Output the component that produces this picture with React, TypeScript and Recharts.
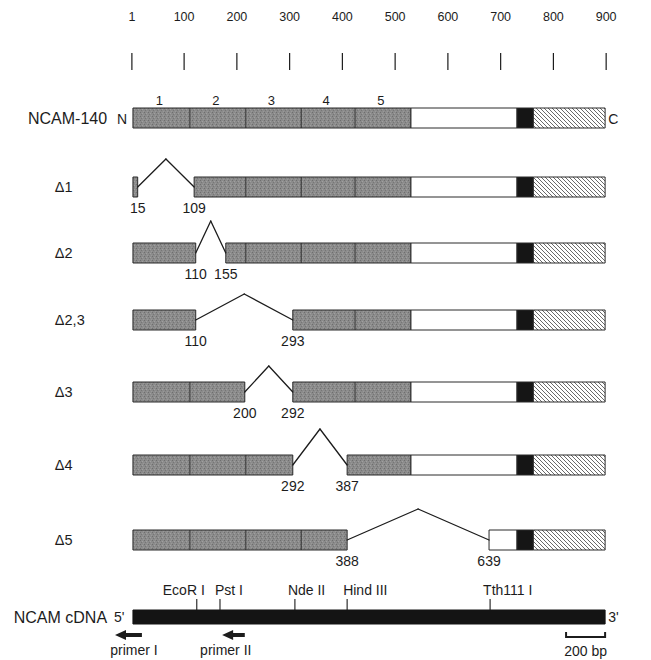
import React from "react";
import { ComposedChart, XAxis, YAxis, ReferenceArea, ReferenceLine, Scatter } from "recharts";

if (typeof document !== "undefined") document.body.style.margin = "0";

const FONT = "'Liberation Sans', Arial, Helvetica, sans-serif";
const INK = "#1c1c1c";

// top scale
const AXIS_TICKS = [1, 100, 200, 300, 400, 500, 600, 700, 800, 900];

// rows, top to bottom
const ROWS = ["NCAM-140", "Δ1", "Δ2", "Δ2,3", "Δ3", "Δ4", "Δ5", "NCAM cDNA"];

// protein regions (axis units)
const DOMAIN_EDGES = [3, 111, 217, 322, 424, 530]; // Ig domains 1-5
const DOMAIN_NAMES = ["1", "2", "3", "4", "5"];
const ECTO = [530, 731];
const TM = [731, 762];
const CYTO = [762, 898];

// stretch spliced out in each variant, and the numbers printed at its ends
const DELETIONS = [
  [12, 119],
  [122, 179],
  [122, 306],
  [215, 306],
  [306, 409],
  [409, 678],
];
const DELETION_LABELS = [
  ["15", "109"],
  ["110", "155"],
  ["110", "293"],
  ["200", "292"],
  ["292", "387"],
  ["388", "639"],
];

// cDNA map
const CDNA_SPAN = [3, 898];
const SITES = ["EcoR I", "Pst I", "Nde II", "Hind III", "Tth111 I"];
const SITE_POS = [124, 168, 310, 409, 680];
const PRIMERS = ["primer I", "primer II"];
const PRIMER_TAIL = [20, 215];
const PRIMER_HEAD = [-31, 172];
const SCALE_BAR = [824, 898];
const SCALE_LABEL = "200 bp";

// layout (plot y units = px)
const ROW_Y = [118, 187, 253, 320, 392, 465, 540, 617];
const HALF = 10;
const CDNA_HALF = 7;
const PEAK_RISE = [28, 32, 26, 26, 36, 31];
const DELTA_COL = -145;
const NAME_COL = -46;
const SITE_DX = [-34, -5, -7, -4, -7];
const PRIMER_LABEL_X = [5, 179];

const AxisTick = (props: any) => {
  const { x, payload } = props;
  return (
    <g>
      <text x={x} y={16} dy="0.36em" textAnchor="middle" fontSize={12.5} fontFamily={FONT} fill={INK}>
        {payload.value}
      </text>
      <line x1={x} x2={x} y1={53} y2={70} stroke={INK} strokeWidth={1.2} />
    </g>
  );
};

const textShape = (size: number, anchor: string) => (p: any) => (
  <text
    x={p.cx + (p.payload.dx ?? 0)}
    y={p.cy}
    dy="0.36em"
    textAnchor={p.payload.anchor ?? anchor}
    fontSize={size}
    fontFamily={FONT}
    fill={INK}
  >
    {p.payload.text}
  </text>
);

const arrowHead = (p: any) => (
  <polygon points={`${p.cx},${p.cy} ${p.cx + 11},${p.cy - 5} ${p.cx + 11},${p.cy + 5}`} fill={INK} />
);

const clip = (a: number, b: number, r: number[]) => {
  const lo = Math.max(a, r[0]);
  const hi = Math.min(b, r[1]);
  return hi > lo ? [lo, hi] : null;
};

const FULL = [DOMAIN_EDGES[0], CYTO[1]];
const isoforms = [
  { y: ROW_Y[0], pieces: [FULL] },
  ...DELETIONS.map((d, i) => ({ y: ROW_Y[i + 1], pieces: [[FULL[0], d[0]], [d[1], FULL[1]]] })),
];

const lineProps = { stroke: INK, strokeWidth: 1.3, strokeLinecap: "round" as const, isFront: true };

export default function App() {
  const boxes: React.ReactNode[] = [];
  const lines: React.ReactNode[] = [];

  isoforms.forEach((iso, r) => {
    iso.pieces.forEach(([a, b], k) => {
      const g = clip(a, b, [DOMAIN_EDGES[0], DOMAIN_EDGES[5]]);
      if (g) {
        boxes.push(
          <ReferenceArea key={`g${r}-${k}`} x1={g[0]} x2={g[1]} y1={iso.y - HALF} y2={iso.y + HALF}
            fill="url(#ig)" fillOpacity={1} stroke="#2a2a2a" strokeWidth={1} />
        );
        DOMAIN_EDGES.slice(1, -1)
          .filter((e) => e > g[0] + 20 && e < g[1] - 20)
          .forEach((e) =>
            lines.push(
              <ReferenceLine key={`d${r}-${k}-${e}`} segment={[{ x: e, y: iso.y - HALF }, { x: e, y: iso.y + HALF }]}
                stroke="#2a2a2a" strokeWidth={0.9} isFront />
            )
          );
      }
      ([[ECTO, "#ffffff"], [TM, "#151515"], [CYTO, "url(#hatch)"]] as [number[], string][]).forEach(([reg, fill], j) => {
        const c = clip(a, b, reg);
        if (c)
          boxes.push(
            <ReferenceArea key={`r${r}-${k}-${j}`} x1={c[0]} x2={c[1]} y1={iso.y - HALF} y2={iso.y + HALF}
              fill={fill} fillOpacity={1} stroke="#2a2a2a" strokeWidth={1} />
          );
      });
    });
  });

  DELETIONS.forEach((d, i) => {
    const y = ROW_Y[i + 1];
    const mid = (d[0] + d[1]) / 2;
    const top = y - PEAK_RISE[i];
    lines.push(
      <ReferenceLine key={`ia${i}`} segment={[{ x: d[0], y }, { x: mid, y: top }]} {...lineProps} />,
      <ReferenceLine key={`ib${i}`} segment={[{ x: mid, y: top }, { x: d[1], y }]} {...lineProps} />
    );
  });

  const cdnaY = ROW_Y[7];
  SITE_POS.forEach((s, i) =>
    lines.push(
      <ReferenceLine key={`s${i}`} segment={[{ x: s, y: cdnaY - CDNA_HALF - 11 }, { x: s, y: cdnaY - CDNA_HALF }]}
        stroke={INK} strokeWidth={1.1} isFront />
    )
  );
  PRIMER_TAIL.forEach((t, i) =>
    lines.push(
      <ReferenceLine key={`p${i}`} segment={[{ x: t, y: 635 }, { x: PRIMER_HEAD[i] + 15, y: 635 }]}
        stroke={INK} strokeWidth={4} isFront />
    )
  );
  lines.push(
    <ReferenceLine key="sb" segment={[{ x: SCALE_BAR[0], y: 637 }, { x: SCALE_BAR[1], y: 637 }]} stroke={INK} strokeWidth={2} isFront />,
    <ReferenceLine key="sb0" segment={[{ x: SCALE_BAR[0], y: 632 }, { x: SCALE_BAR[0], y: 638 }]} stroke={INK} strokeWidth={2} isFront />,
    <ReferenceLine key="sb1" segment={[{ x: SCALE_BAR[1], y: 632 }, { x: SCALE_BAR[1], y: 638 }]} stroke={INK} strokeWidth={2} isFront />
  );

  const rowLabels = ROWS.map((name, i) => {
    const delta = name.startsWith("Δ");
    return { x: delta ? DELTA_COL : NAME_COL, y: ROW_Y[i], text: name, anchor: delta ? "start" : "end" };
  });
  const bigLabels = rowLabels.filter((l) => l.anchor === "end");
  const deltaLabels = rowLabels.filter((l) => l.anchor === "start");
  const caps = [
    { x: -8, y: ROW_Y[0] + 1, text: "N", anchor: "end" },
    { x: 904, y: ROW_Y[0] + 1, text: "C", anchor: "start" },
    { x: -13, y: cdnaY, text: "5'", anchor: "end" },
    { x: 904, y: cdnaY, text: "3'", anchor: "start" },
  ];
  const domainLabels = DOMAIN_NAMES.map((n, i) => ({
    x: (DOMAIN_EDGES[i] + DOMAIN_EDGES[i + 1]) / 2 - 4,
    y: ROW_Y[0] - 17.5,
    text: n,
  }));
  const junctionLabels = DELETIONS.flatMap((d, i) => [
    { x: d[0], y: ROW_Y[i + 1] + 21, text: DELETION_LABELS[i][0] },
    { x: d[1], y: ROW_Y[i + 1] + 21, text: DELETION_LABELS[i][1] },
  ]);
  const siteLabels = SITES.map((s, i) => ({ x: SITE_POS[i], y: 590, text: s, dx: SITE_DX[i] }));
  const primerLabels = PRIMERS.map((p, i) => ({ x: PRIMER_LABEL_X[i], y: 650, text: p }));
  const heads = PRIMER_HEAD.map((h) => ({ x: h, y: 635 }));
  const scaleLabel = [{ x: (SCALE_BAR[0] + SCALE_BAR[1]) / 2, y: 651, text: SCALE_LABEL }];

  return (
    <ComposedChart width={651} height={660} margin={{ top: 0, right: 0, bottom: 0, left: 0 }}>
      <defs>
        <pattern id="ig" width="4" height="4" patternUnits="userSpaceOnUse">
          <rect width="4" height="4" fill="#8b8b8b" />
          <rect x="0" y="0" width="1" height="1" fill="#6e6e6e" />
          <rect x="2" y="1" width="1" height="1" fill="#a0a0a0" />
          <rect x="1" y="2" width="1" height="1" fill="#767676" />
          <rect x="3" y="3" width="1" height="1" fill="#999999" />
        </pattern>
        <pattern id="hatch" width="4" height="4" patternUnits="userSpaceOnUse">
          <rect width="4" height="4" fill="#ffffff" />
          <path d="M-1,-1 L5,5 M-1,3 L1,5 M3,-1 L5,1" stroke="#6a6a6a" strokeWidth="1" />
        </pattern>
      </defs>
      <XAxis
        dataKey="x"
        type="number"
        orientation="top"
        height={72}
        domain={[-249, 985]}
        ticks={AXIS_TICKS}
        interval={0}
        axisLine={false}
        tickLine={false}
        tick={<AxisTick />}
      />
      <YAxis dataKey="y" type="number" hide reversed domain={[72, 660]} />
      {boxes}
      <ReferenceArea x1={CDNA_SPAN[0]} x2={CDNA_SPAN[1]} y1={cdnaY - CDNA_HALF} y2={cdnaY + CDNA_HALF}
        fill="#141414" fillOpacity={1} stroke="#141414" />
      {lines}
      <Scatter data={bigLabels} shape={textShape(16, "end")} isAnimationActive={false} />
      <Scatter data={deltaLabels} shape={textShape(14.5, "start")} isAnimationActive={false} />
      <Scatter data={caps} shape={textShape(14, "start")} isAnimationActive={false} />
      <Scatter data={domainLabels} shape={textShape(13, "middle")} isAnimationActive={false} />
      <Scatter data={junctionLabels} shape={textShape(14, "middle")} isAnimationActive={false} />
      <Scatter data={siteLabels} shape={textShape(14, "start")} isAnimationActive={false} />
      <Scatter data={primerLabels} shape={textShape(14, "middle")} isAnimationActive={false} />
      <Scatter data={heads} shape={arrowHead} isAnimationActive={false} />
      <Scatter data={scaleLabel} shape={textShape(14, "middle")} isAnimationActive={false} />
    </ComposedChart>
  );
}
